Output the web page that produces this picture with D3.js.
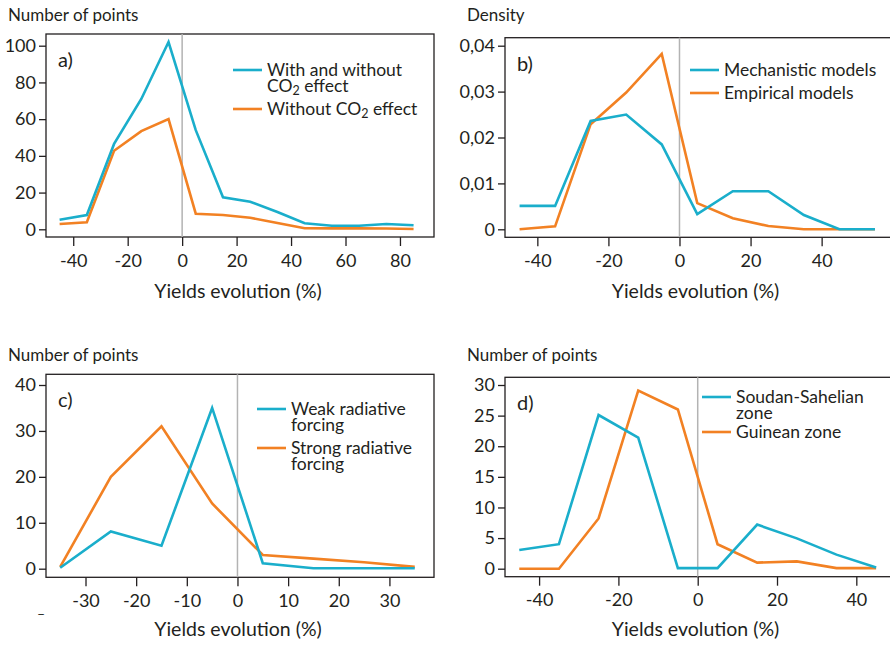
<!DOCTYPE html>
<html>
<head>
<meta charset="utf-8">
<script src="https://cdn.jsdelivr.net/npm/d3@7"></script>
<style>
  body { margin: 0; background: #fff; }
  text { font-family: Lato, "Open Sans", sans-serif; fill: #231f20; }
  .tick line, .domain { stroke: #231f20; }
</style>
</head>
<body>
<div id="chart"></div>
<script>
// classes de rendement (centres des intervalles)
var bins_a = [-45, -35, -25, -15, -5, 5, 15, 25, 35, 45, 55, 65, 75, 85];
var withCO2 = [5.2, 7.8, 46.5, 71, 102, 54, 17.4, 15, 9.4, 3.3, 1.9, 1.9, 2.9, 2.2];
var withoutCO2 = [2.9, 3.8, 42.8, 53.5, 60, 8.5, 7.8, 6.3, 3.4, 0.6, 0.5, 0.5, 0.4, 0.2];

var bins_b = [-45, -35, -25, -15, -5, 5, 15, 25, 35, 45, 55];
var mechanistic = [0.0051, 0.0051, 0.0236, 0.025, 0.0185, 0.0033, 0.0083, 0.0083, 0.0031, 0, 0];
var empirical = [0, 0.00065, 0.0229, 0.0298, 0.0382, 0.0057, 0.0024, 0.0007, 0, 0, 0];

var bins_c = [-35, -25, -15, -5, 5, 15, 25, 35];
var weakForcing = [0.2, 8.1, 5, 35, 1.2, 0.1, 0.1, 0.1];
var strongForcing = [0.4, 20, 31, 14.2, 3, 2.2, 1.4, 0.4];

var bins_d = [-45, -35, -25, -15, -5, 5, 15, 25, 35, 45];
var soudanSahel = [3.05, 4, 25.1, 21.4, 0.1, 0.1, 7.2, 4.95, 2.3, 0.2];
var guinean = [0, 0, 8.2, 29.1, 26, 4, 1, 1.2, 0.1, 0.1];

var ticks_a_x = [-40, -20, 0, 20, 40, 60, 80], ticks_a_y = [0, 20, 40, 60, 80, 100];
var ticks_b_x = [-40, -20, 0, 20, 40], ticks_b_y = [0, 0.01, 0.02, 0.03, 0.04];
var ticks_c_x = [-30, -20, -10, 0, 10, 20, 30], ticks_c_y = [0, 10, 20, 30, 40];
var ticks_d_x = [-40, -20, 0, 20, 40], ticks_d_y = [0, 5, 10, 15, 20, 25, 30];

var blue = "#1aaecb", orange = "#f28123";

var svg = d3.select("#chart").append("svg")
    .attr("width", 890)
    .attr("height", 645);

var panels = [
  { label: "a)", ytitle: "Number of points", bins: bins_a, series: [withCO2, withoutCO2],
    legend: [["With and without", ["CO", "2", " effect"]], [["Without CO", "2", " effect"]]],
    x0: 46, x1: 434, top: 34, bottom: 237, xdom: [-50, 92.5], ymax: 100, y0: 229.3, ytop: 45.7,
    xt: ticks_a_x, yt: ticks_a_y, fmt: function(d) { return String(d); },
    titleX: 8, titleY: 21, legX: 233, legY: 70, legGap: 39, xlabY: 298 },
  { label: "b)", ytitle: "Density", bins: bins_b, series: [mechanistic, empirical],
    legend: [["Mechanistic models"], ["Empirical models"]],
    x0: 505, x1: 892, top: 37.7, bottom: 237.3, xdom: [-49.1, 59.8], ymax: 0.04, y0: 229.3, ytop: 45.7,
    xt: ticks_b_x, yt: ticks_b_y, fmt: function(d) { return d === 0 ? "0" : d.toFixed(2).replace(".", ","); },
    titleX: 467, titleY: 21, legX: 690, legY: 70, legGap: 23, xlabY: 298 },
  { label: "c)", ytitle: "Number of points", bins: bins_c, series: [weakForcing, strongForcing],
    legend: [["Weak radiative", "forcing"], ["Strong radiative", "forcing"]],
    x0: 46, x1: 434, top: 374.3, bottom: 577.3, xdom: [-37.8, 38.8], ymax: 40, y0: 568.7, ytop: 385,
    xt: ticks_c_x, yt: ticks_c_y, fmt: function(d) { return String(d); },
    titleX: 8, titleY: 361, legX: 257, legY: 409, legGap: 39, xlabY: 636 },
  { label: "d)", ytitle: "Number of points", bins: bins_d, series: [soudanSahel, guinean],
    legend: [["Soudan-Sahelian", "zone"], ["Guinean zone"]],
    x0: 505, x1: 892, top: 377.3, bottom: 576.7, xdom: [-48.6, 49], ymax: 30, y0: 568.7, ytop: 385,
    xt: ticks_d_x, yt: ticks_d_y, fmt: function(d) { return String(d); },
    titleX: 467, titleY: 361, legX: 702, legY: 397, legGap: 35, xlabY: 636 }
];

panels.forEach(function(p) {
  var g = svg.append("g");

  var x = d3.scaleLinear().domain(p.xdom).range([p.x0, p.x1]);
  var y = d3.scaleLinear().domain([0, p.ymax]).range([p.y0, p.ytop]);

  // cadre
  g.append("rect")
    .attr("x", p.x0).attr("y", p.top)
    .attr("width", p.x1 - p.x0).attr("height", p.bottom - p.top)
    .attr("fill", "none").attr("stroke", "#231f20").attr("stroke-width", 1.3);

  // ligne verticale du zéro
  g.append("line")
    .attr("x1", x(0)).attr("x2", x(0))
    .attr("y1", p.top).attr("y2", p.bottom)
    .attr("stroke", "#b3b3b3").attr("stroke-width", 1.5);

  var xAxis = g.append("g")
    .attr("transform", "translate(0," + p.bottom + ")")
    .call(d3.axisBottom(x).tickValues(p.xt).tickSize(9).tickPadding(8).tickFormat(function(d) { return String(d); }));
  var yAxis = g.append("g")
    .attr("transform", "translate(" + p.x0 + ",0)")
    .call(d3.axisLeft(y).tickValues(p.yt).tickSize(7).tickPadding(3).tickFormat(p.fmt));

  [xAxis, yAxis].forEach(function(ax) {
    ax.select(".domain").remove();
    ax.selectAll(".tick line").attr("stroke-width", 1.3);
    ax.selectAll("text").style("font-size", "18px").attr("fill", "#231f20")
      .style("font-family", "Lato, 'Open Sans', sans-serif");
  });

  var line = d3.line()
    .x(function(d, i) { return x(p.bins[i]); })
    .y(function(d) { return y(d); });

  // orange sous le bleu
  [1, 0].forEach(function(k) {
    g.append("path")
      .datum(p.series[k])
      .attr("fill", "none")
      .attr("stroke", k === 0 ? blue : orange)
      .attr("stroke-width", 2.6)
      .attr("stroke-linejoin", "miter")
      .attr("d", line);
  });

  g.append("text").attr("x", p.titleX).attr("y", p.titleY)
    .style("font-size", "17px").text(p.ytitle);

  g.append("text").attr("x", p.x0 + 12).attr("y", p.top + 33)
    .style("font-size", "20px").text(p.label);

  g.append("text").attr("x", (p.x0 + Math.min(p.x1, 890)) / 2 - 2).attr("y", p.xlabY)
    .attr("text-anchor", "middle").style("font-size", "19.5px").text("Yields evolution (%)");

  // légende : un seul <text> par entrée, lignes en tspan
  p.legend.forEach(function(item, k) {
    var ly = p.legY + k * p.legGap;
    g.append("line")
      .attr("x1", p.legX).attr("x2", p.legX + 29)
      .attr("y1", ly).attr("y2", ly)
      .attr("stroke", k === 0 ? blue : orange).attr("stroke-width", 2.6);
    var t = g.append("text").attr("x", p.legX + 34).attr("y", ly + 5.5)
      .style("font-size", "17.5px");
    item.forEach(function(row, r) {
      var first = t.append("tspan").attr("x", p.legX + 34);
      if (r > 0) first.attr("y", ly + 5.5 + r * 16.5);
      if (Array.isArray(row)) {
        first.text(row[0]);
        t.append("tspan").attr("dy", 3).style("font-size", "12.5px").text(row[1]);
        t.append("tspan").attr("dy", -3).text(row[2]);
      } else {
        first.text(row);
      }
    });
  });
});

// petit tiret isolé sous le panneau c
svg.append("text").attr("x", 41).attr("y", 619).attr("text-anchor", "middle")
  .style("font-size", "14px").text("–");
</script>
</body>
</html>
